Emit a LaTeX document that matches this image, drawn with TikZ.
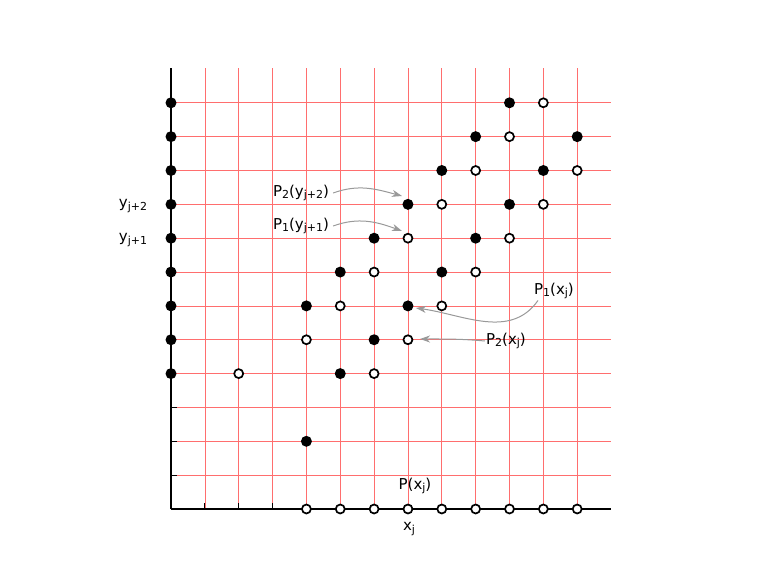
\documentclass[tikz,border=0pt]{standalone}
\usepackage{fontspec}
\setmainfont{DejaVu Sans}
\usetikzlibrary{arrows.meta}
\definecolor{gridred}{RGB}{255,110,110}
\newcommand\mysb[1]{\raisebox{-0.35ex}{\fontsize{11}{12}\selectfont #1}}
\begin{document}
\begin{tikzpicture}[x=1pt,y=-1pt,
  gridline/.style={draw=gridred,line width=0.7pt},
  axisline/.style={draw=black,line width=1.3pt},
  fdot/.style={circle,fill=black,inner sep=0pt,minimum size=11pt},
  odot/.style={circle,draw=black,fill=white,line width=1.7pt,inner sep=0pt,minimum size=9pt},
  lbl/.style={font=\fontsize{15}{17}\selectfont,inner sep=1pt},
  arr/.style={draw=black!40,line width=1pt,-{Stealth[length=10pt,width=7pt,inset=3pt]}}]
\useasboundingbox (0,0) rectangle (763,572);
\def\s{33.85}
% grid
\foreach \i in {1,...,12} \draw[gridline] (171+\i*\s,509) -- (171+\i*\s,68);
\foreach \j in {1,...,12} \draw[gridline] (171,509-\j*\s) -- (611,509-\j*\s);
% axes
\draw[axisline] (171,509) -- (611,509);
\draw[axisline] (171,509) -- (171,68);
\foreach \i in {1,2,3} \draw[line width=1pt] (171+\i*\s,509) -- (171+\i*\s,503);
\foreach \j in {1,2,3} \draw[line width=1pt] (171,509-\j*\s) -- (177,509-\j*\s);
% dots on y axis
\foreach \j in {4,...,12} \node[fdot] (ya\j) at (171,509-\j*\s) {};
% open dots on x axis
\foreach \i in {4,...,12} \node[odot] (xa\i) at (171+\i*\s,509) {};
% filled dots
\foreach \i/\j in {10/12, 9/11, 12/11, 8/10, 11/10, 7/9, 10/9, 6/8, 9/8, 5/7, 8/7, 4/6, 7/6, 6/5, 5/4, 4/2}
  \node[fdot] (f\i-\j) at (171+\i*\s,509-\j*\s) {};
% open dots
\foreach \i/\j in {11/12, 10/11, 9/10, 12/10, 8/9, 11/9, 7/8, 10/8, 6/7, 9/7, 5/6, 8/6, 4/5, 7/5, 2/4, 6/4}
  \node[odot] (o\i-\j) at (171+\i*\s,509-\j*\s) {};
% labels
\node[lbl] (p2y) at (301,193) {P\mysb{2}(y\mysb{j+2})};
\node[lbl] (p1y) at (301,226) {P\mysb{1}(y\mysb{j+1})};
\node[lbl] (p1x) at (554,291) {P\mysb{1}(x\mysb{j})};
\node[lbl] (p2x) at (506,341) {P\mysb{2}(x\mysb{j})};
\node[lbl] (px) at (415,486) {P(x\mysb{j})};
\node[lbl] (xj) at (409,529) {x\mysb{j}};
\node[lbl] (yj2) at (133,206) {y\mysb{j+2}};
\node[lbl] (yj1) at (133,240) {y\mysb{j+1}};
% arrows
\coordinate (e1) at (402,196);
\coordinate (e2) at (402,231);
\coordinate (e3) at (416,308);
\coordinate (e4) at (420,339);
\draw[arr] ([xshift=3pt]p2y.east) to[out=20,in=165] (e1);
\draw[arr] ([xshift=3pt]p1y.east) to[out=20,in=160] (e2);
\draw[arr] ([xshift=-16pt]p1x.south) to[out=235,in=-8] (e3);
\draw[arr] (p2x.west) to[out=175,in=0] (e4);
\end{tikzpicture}
\end{document}
